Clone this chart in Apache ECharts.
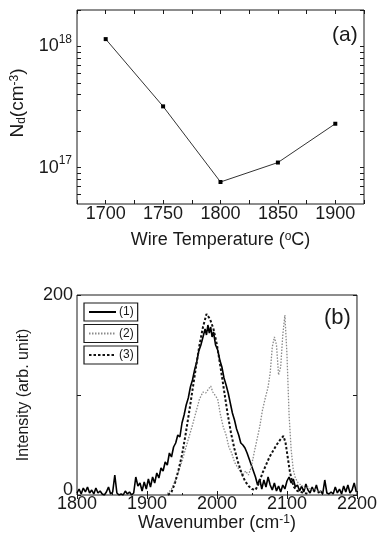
<!DOCTYPE html>
<html>
<head>
<meta charset="utf-8">
<script src="https://cdn.jsdelivr.net/npm/echarts@6/dist/echarts.min.js"></script>
<style>
  html, body { margin: 0; padding: 0; background: #fff; }
  #chart { width: 380px; height: 538px; }
</style>
</head>
<body>
<div id="chart"></div>
<script>
// panel (a): donor density vs wire temperature
const wireTemp = [1700, 1750, 1800, 1850, 1900]
const donorDensity = [1.15e18, 3.2e17, 7.6e16, 1.1e17, 2.3e17]
const tempLabels = [1700, 1750, 1800, 1850, 1900]
const ndLabels = [1e17, 1e18]
const ndTicks = [6e16, 7e16, 8e16, 9e16, 1e17, 2e17, 3e17, 4e17, 5e17, 6e17, 7e17, 8e17, 9e17, 1e18, 2e18]

// panel (b): IR spectra
const wn1 = [1800, 1803, 1806, 1809, 1812, 1815, 1818, 1821, 1824, 1827, 1830, 1833, 1836, 1839, 1842, 1845, 1848, 1851, 1854, 1857,
  1860, 1863, 1866, 1869, 1872, 1875, 1878, 1881, 1884, 1887, 1890, 1893, 1896, 1899, 1902, 1905, 1908, 1911, 1914, 1917,
  1920, 1923, 1926, 1929, 1932, 1935, 1938, 1941, 1944, 1947, 1950, 1953, 1956, 1959, 1962, 1965, 1968, 1971, 1974, 1977,
  1980, 1983, 1985, 1987, 1989, 1991, 1993, 1995, 1998, 2001, 2004, 2007, 2010, 2013, 2016, 2019, 2022, 2025, 2028, 2031,
  2034, 2037, 2040, 2043, 2046, 2049, 2052, 2055, 2058, 2061, 2064, 2067, 2070, 2073, 2076, 2079, 2082, 2085, 2088, 2091,
  2094, 2097, 2100, 2103, 2106, 2109, 2112, 2115, 2118, 2121, 2124, 2127, 2130, 2133, 2136, 2139, 2142, 2145, 2148, 2151,
  2154, 2157, 2160, 2163, 2166, 2169, 2172, 2175, 2178, 2181, 2184, 2187, 2190, 2193, 2196, 2199]
const int1 = [2, 6, 1, 7, 3, 8, 2, 5, 1, 7, 2, 4, 1, 0, 3, 8, 1, 3, 20, 2,
  0, 1, 0, 4, 1, 3, 0, 2, 18, 9, 12, 4, 13, 6, 16, 8, 18, 12, 22, 17,
  27, 24, 33, 30, 42, 38, 48, 52, 60, 58, 72, 80, 90, 97, 108, 115, 125, 133, 144, 150,
  158, 166, 160, 170, 162, 168, 158, 163, 150, 145, 135, 128, 117, 110, 102, 92, 82, 75, 66, 60,
  52, 50, 47, 42, 36, 30, 24, 18, 10, 16, 6, 15, 8, 18, 10, 5, 12, 4, 9, 3,
  10, 6, 14, 18, 12, 16, 8, 10, 4, 9, 3, 11, 5, 2, 8, 3, 10, 2, 4, 1,
  15, 2, 1, 3, 1, 8, 2, 6, 1, 9, 3, 10, 2, 5, 12, 3]

const wn2 = [1925, 1930, 1935, 1940, 1945, 1950, 1955, 1960, 1965, 1970, 1975, 1980, 1984, 1988, 1991, 1994, 1998, 2001, 2005, 2009,
  2013, 2017, 2021, 2025, 2029, 2033, 2037, 2041, 2045, 2049, 2053, 2057, 2061, 2065, 2069, 2073, 2076, 2079, 2082, 2085,
  2088, 2091, 2094, 2097, 2100, 2103, 2106, 2109, 2112, 2116, 2120, 2125, 2130, 2135, 2140, 2145, 2150]
const int2 = [0, 2, 6, 14, 23, 34, 46, 58, 70, 83, 96, 103, 102, 106, 109, 103, 99, 96, 80, 68,
  60, 48, 42, 33, 28, 24, 20, 24, 20, 28, 42, 55, 68, 85, 97, 108, 122, 148, 158, 150,
  120, 128, 160, 180, 140, 80, 45, 25, 17, 12, 10, 7, 8, 5, 6, 3, 4]

const wn3 = [1930, 1935, 1940, 1945, 1950, 1955, 1960, 1965, 1970, 1975, 1980, 1985, 1990, 1995, 2000, 2005, 2010, 2015, 2020, 2025,
  2030, 2035, 2040, 2045, 2050, 2055, 2060, 2065, 2070, 2075, 2080, 2085, 2090, 2095, 2098, 2101, 2104, 2107, 2110, 2115,
  2120, 2125, 2130]
const int3 = [0, 3, 12, 25, 40, 60, 82, 105, 128, 150, 168, 181, 176, 166, 150, 128, 105, 82, 62, 46,
  33, 22, 14, 9, 6, 5, 12, 22, 30, 38, 44, 50, 55, 59, 52, 38, 24, 14, 8, 4,
  3, 2, 1]

const seriesNames = ['(1)', '(2)', '(3)']
const wnLabels = [1800, 1900, 2000, 2100, 2200]
const intLabels = [0, 200]

const font = 'Liberation Sans, Arial, sans-serif'
const ink = '#1a1a1a'
const pairs = (xs, ys) => xs.map((x, i) => [x, ys[i]])

const supRich = {
  b: { fontSize: 18, fontFamily: font, color: ink, lineHeight: 26 },
  s: { fontSize: 12, fontFamily: font, color: ink, verticalAlign: 'top', lineHeight: 12 },
  d: { fontSize: 12, fontFamily: font, color: ink, verticalAlign: 'bottom', lineHeight: 12 }
}
const tick = { inside: true, length: 4, lineStyle: { color: ink, width: 1 } }
const label = { fontSize: 18, fontFamily: font, color: ink, formatter: v => String(v) }

const myChart = echarts.init(document.getElementById('chart'))
myChart.setOption({
  backgroundColor: '#fff',
  animation: false,
  grid: [
    { left: 77, right: 16, top: 10, height: 194, show: true, borderColor: ink, borderWidth: 1 },
    { left: 77, right: 21, top: 295, height: 200, show: true, borderColor: ink, borderWidth: 1 }
  ],
  graphic: [
    { type: 'text', left: 332, top: 25, style: { text: '(a)', fontSize: 21, fontFamily: font, fill: ink } },
    { type: 'text', left: 324, top: 307, style: { text: '(b)', fontSize: 22, fontFamily: font, fill: ink } }
  ],
  legend: seriesNames.map((n, i) => ({
    data: [n],
    left: 84,
    top: 303 + i * 21.5,
    orient: 'vertical',
    padding: [3, 4, 3, 4],
    itemWidth: 27,
    itemHeight: 12,
    itemGap: 0,
    borderColor: ink,
    borderWidth: 1.2,
    itemStyle: { opacity: 0 },
    textStyle: { fontSize: 12, fontFamily: font, color: ink, padding: [0, 0, 0, -2] }
  })),
  xAxis: [
    {
      gridIndex: 0, type: 'value', min: 1675, max: 1925, interval: 25,
      axisLine: { show: false }, splitLine: { show: false },
      axisTick: tick,
      axisLabel: Object.assign({ customValues: tempLabels, margin: 1 }, label),
      name: 'Wire Temperature ({s|o}C)', nameLocation: 'middle', nameGap: 27,
      nameTextStyle: { fontSize: 18, fontFamily: font, color: ink, rich: supRich }
    },
    {
      gridIndex: 0, type: 'value', min: 1675, max: 1925, interval: 25, position: 'top',
      axisLine: { show: false }, splitLine: { show: false },
      axisTick: tick, axisLabel: { show: false }
    },
    {
      gridIndex: 1, type: 'value', min: 1800, max: 2200, interval: 100,
      axisLine: { show: false }, splitLine: { show: false },
      axisTick: tick, minorTick: { show: true, splitNumber: 2, length: 2, lineStyle: { color: ink } },
      axisLabel: Object.assign({ customValues: wnLabels, margin: 0 }, label),
      name: 'Wavenumber (cm{s|-1})', nameLocation: 'middle', nameGap: 16,
      nameTextStyle: { fontSize: 18, fontFamily: font, color: ink, rich: supRich }
    },
    {
      gridIndex: 1, type: 'value', min: 1800, max: 2200, interval: 100, position: 'top',
      axisLine: { show: false }, splitLine: { show: false },
      axisTick: tick, axisLabel: { show: false }
    }
  ],
  yAxis: [
    {
      gridIndex: 0, type: 'log', logBase: 10, min: 5e16, max: 2e18,
      axisLine: { show: false }, splitLine: { show: false },
      axisTick: Object.assign({ customValues: ndTicks }, tick),
      axisLabel: {
        customValues: ndLabels, margin: 5,
        formatter: v => '{b|10}{s|' + Math.round(Math.log10(v)) + '}',
        rich: supRich
      },
      name: 'N{d|d}(cm{s|-3})', nameLocation: 'middle', nameGap: 44,
      nameTextStyle: { fontSize: 19, fontFamily: font, color: ink, rich: supRich, padding: [0, 0, 0, 8] }
    },
    {
      gridIndex: 0, type: 'log', logBase: 10, min: 5e16, max: 2e18, position: 'right',
      axisLine: { show: false }, splitLine: { show: false },
      axisTick: Object.assign({ customValues: ndTicks }, tick), axisLabel: { show: false }
    },
    {
      gridIndex: 1, type: 'value', min: 0, max: 200, interval: 100,
      axisLine: { show: false }, splitLine: { show: false },
      axisTick: tick,
      axisLabel: Object.assign({}, label, {
        customValues: intLabels, margin: 4,
        formatter: v => (v === 0 ? '{z|0}' : '200'),
        rich: { z: { fontSize: 18, fontFamily: font, color: ink, padding: [0, 0, 10, 0] } }
      }),
      name: 'Intensity (arb. unit)', nameLocation: 'middle', nameGap: 32,
      nameTextStyle: { fontSize: 16, fontFamily: font, color: ink }
    },
    {
      gridIndex: 1, type: 'value', min: 0, max: 200, interval: 100, position: 'right',
      axisLine: { show: false }, splitLine: { show: false },
      axisTick: tick, axisLabel: { show: false }
    }
  ],
  series: [
    {
      type: 'line', xAxisIndex: 0, yAxisIndex: 0,
      data: pairs(wireTemp, donorDensity),
      symbol: 'rect', symbolSize: 4,
      itemStyle: { color: '#000' },
      lineStyle: { color: '#333', width: 1 }
    },
    {
      name: seriesNames[0], type: 'line', xAxisIndex: 2, yAxisIndex: 2,
      data: pairs(wn1, int1), showSymbol: false, symbol: 'none',
      itemStyle: { color: '#000' },
      lineStyle: { color: '#000', width: 1.6 }
    },
    {
      name: seriesNames[1], type: 'line', xAxisIndex: 2, yAxisIndex: 2,
      data: pairs(wn2, int2), showSymbol: false, symbol: 'none',
      itemStyle: { color: '#8a8a8a' },
      lineStyle: { color: '#8a8a8a', width: 1.3, type: [1.5, 1.5] }
    },
    {
      name: seriesNames[2], type: 'line', xAxisIndex: 2, yAxisIndex: 2,
      data: pairs(wn3, int3), showSymbol: false, symbol: 'none',
      itemStyle: { color: '#111' },
      lineStyle: { color: '#111', width: 2, type: [2.5, 2] }
    }
  ]
})
</script>
</body>
</html>
